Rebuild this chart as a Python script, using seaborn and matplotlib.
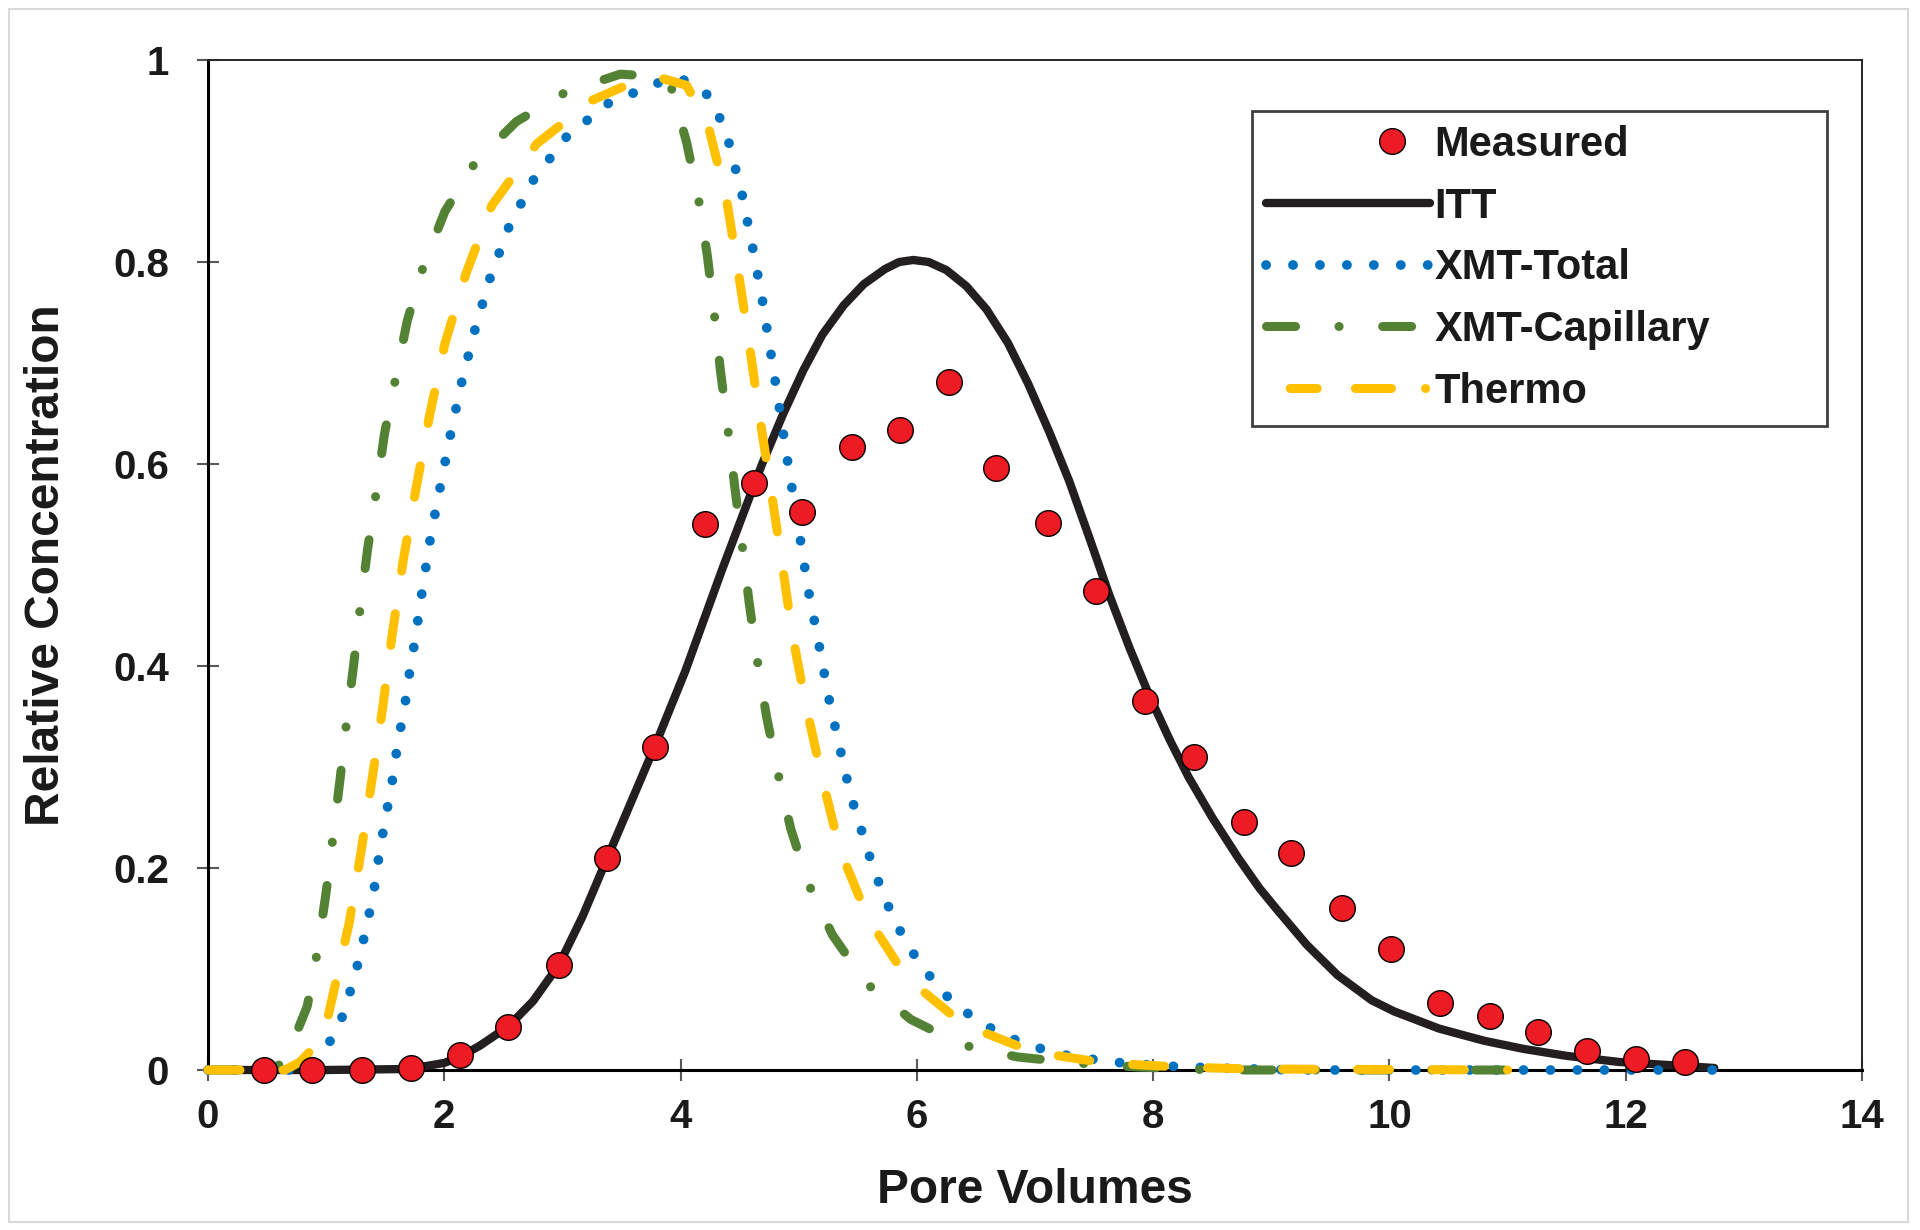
import numpy as np
import pandas as pd
import matplotlib
matplotlib.use("Agg")
import matplotlib.pyplot as plt
import seaborn as sns
from matplotlib.lines import Line2D
from matplotlib.patches import Rectangle
from matplotlib.legend_handler import HandlerLine2D

# measured points
measured_x = [0.47, 0.88, 1.30, 1.72, 2.13, 2.54, 2.97, 3.38, 3.78, 4.21,
              4.62, 5.03, 5.45, 5.86, 6.27, 6.67, 7.11, 7.52, 7.93, 8.35,
              8.77, 9.17, 9.60, 10.01, 10.43, 10.85, 11.26, 11.67, 12.09, 12.50]
measured_y = [0.0, 0.0, 0.0, 0.002, 0.015, 0.043, 0.104, 0.21, 0.32, 0.541,
              0.581, 0.552, 0.617, 0.634, 0.681, 0.596, 0.542, 0.474, 0.365, 0.31,
              0.246, 0.215, 0.16, 0.12, 0.066, 0.053, 0.038, 0.019, 0.011, 0.008]

# ITT model
itt_x = [0.0, 1.0, 1.7, 2.0, 2.13, 2.3, 2.54, 2.75, 2.97, 3.17, 3.38, 3.58, 3.78,
         4.04, 4.35, 4.69, 4.87, 5.04, 5.2, 5.38, 5.55, 5.73, 5.85, 5.97, 6.1,
         6.25, 6.42, 6.59, 6.77, 6.94, 7.12, 7.29, 7.46, 7.63, 7.80, 7.97, 8.14,
         8.30, 8.50, 8.72, 8.90, 9.04, 9.30, 9.56, 9.85, 10.04, 10.42, 10.8,
         11.13, 11.5, 11.94, 12.35, 12.75]
itt_y = [0.0, 0.0, 0.001, 0.007, 0.013, 0.024, 0.043, 0.068, 0.104, 0.152, 0.21,
         0.265, 0.32, 0.395, 0.495, 0.600, 0.65, 0.693, 0.728, 0.757, 0.778,
         0.793, 0.800, 0.802, 0.800, 0.792, 0.776, 0.753, 0.72, 0.68, 0.632,
         0.583, 0.527, 0.47, 0.418, 0.37, 0.327, 0.29, 0.25, 0.21, 0.18, 0.16,
         0.124, 0.094, 0.069, 0.058, 0.041, 0.029, 0.021, 0.014, 0.008, 0.005,
         0.002]

# XMT-Total
tot_x = [0.0, 0.80, 0.95, 1.07, 1.16, 1.22, 1.28, 1.33, 1.38, 1.42, 1.45, 1.49,
         1.53, 1.57, 1.60, 1.64, 1.68, 1.71, 1.75, 1.815, 1.884, 1.97, 2.057,
         2.153, 2.264, 2.392, 2.551, 2.758, 3.035, 3.388, 3.80, 4.0, 4.216, 4.327,
         4.407, 4.52, 4.607, 4.69, 4.762, 4.832, 4.90, 5.01, 5.08, 5.167, 5.25,
         5.298, 5.346, 5.398, 5.45, 5.519, 5.581, 5.657, 5.736, 5.829, 5.942,
         6.07, 6.208, 6.381, 6.57, 6.76, 6.974, 7.19, 7.408, 7.64, 7.862, 8.09,
         8.53, 9.2, 12.85]
tot_y = [0.0, 0.0, 0.014, 0.035, 0.059, 0.085, 0.11, 0.136, 0.163, 0.188, 0.215,
         0.241, 0.267, 0.293, 0.319, 0.345, 0.371, 0.397, 0.424, 0.476, 0.528,
         0.58, 0.632, 0.684, 0.735, 0.786, 0.836, 0.882, 0.924, 0.957, 0.977,
         0.982, 0.967, 0.944, 0.919, 0.867, 0.816, 0.764, 0.711, 0.659, 0.607,
         0.528, 0.476, 0.424, 0.371, 0.345, 0.32, 0.293, 0.268, 0.242, 0.218,
         0.192, 0.168, 0.144, 0.12, 0.099, 0.078, 0.06, 0.045, 0.033, 0.024,
         0.016, 0.012, 0.008, 0.006, 0.004, 0.002, 0.0, 0.0]

# XMT-Capillary
cap_x = [0.0, 0.55, 0.66, 0.84, 0.93, 1.00, 1.06, 1.12, 1.175, 1.235, 1.29, 1.35,
         1.425, 1.494, 1.59, 1.687, 1.826, 2.005, 2.264, 2.61, 3.025, 3.49, 3.75,
         3.923, 4.05, 4.154, 4.227, 4.286, 4.337, 4.40, 4.459, 4.52, 4.579, 4.646,
         4.726, 4.822, 4.932, 5.08, 5.284, 5.57, 5.95, 6.38, 6.846, 7.339, 7.864,
         8.5, 11.3]
cap_y = [0.0, 0.0, 0.011, 0.063, 0.12, 0.176, 0.233, 0.29, 0.347, 0.403, 0.46,
         0.515, 0.573, 0.63, 0.686, 0.742, 0.797, 0.85, 0.899, 0.939, 0.968,
         0.986, 0.984, 0.972, 0.919, 0.861, 0.806, 0.748, 0.693, 0.635, 0.577,
         0.521, 0.464, 0.408, 0.351, 0.295, 0.239, 0.185, 0.134, 0.086, 0.05,
         0.025, 0.013, 0.007, 0.003, 0.0, 0.0]

# Thermo
thermo_x = [0.0, 0.65, 0.78, 0.90, 1.00, 1.055, 1.194, 1.297, 1.39, 1.48, 1.56,
            1.653, 1.763, 1.877, 2.005, 2.185, 2.402, 2.782, 3.249, 3.60, 3.836,
            4.05, 4.234, 4.389, 4.486, 4.579, 4.666, 4.762, 4.855, 4.945, 5.063,
            5.198, 5.346, 5.587, 5.915, 6.397, 6.983, 7.588, 8.21, 8.83, 11.0]
thermo_y = [0.0, 0.0, 0.008, 0.023, 0.045, 0.073, 0.145, 0.217, 0.289, 0.36,
            0.432, 0.505, 0.577, 0.649, 0.719, 0.789, 0.856, 0.917, 0.96, 0.978,
            0.982, 0.975, 0.935, 0.862, 0.792, 0.721, 0.649, 0.577, 0.505, 0.432,
            0.36, 0.289, 0.219, 0.15, 0.091, 0.045, 0.018, 0.007, 0.003, 0.001, 0.0]

x_ticks = [0, 2, 4, 6, 8, 10, 12, 14]
x_labels = ["0", "2", "4", "6", "8", "10", "12", "14"]
y_ticks = [0, 0.2, 0.4, 0.6, 0.8, 1.0]
y_labels = ["0", "0.2", "0.4", "0.6", "0.8", "1"]

red = "#ED1C24"
blue = "#0070C0"
green = "#548235"
yellow = "#FFC000"
black = "#231F20"
ink = "#1a1a1a"

sns.set_theme(style="white")
plt.rcParams["font.family"] = ["Liberation Sans", "DejaVu Sans"]
plt.rcParams["font.weight"] = "bold"
plt.rcParams["axes.labelweight"] = "bold"
plt.rcParams["lines.scale_dashes"] = False
plt.rcParams["text.color"] = ink
plt.rcParams["axes.labelcolor"] = ink

fig = plt.figure(figsize=(19.2, 12.3), dpi=100)
ax = fig.add_axes([208 / 1920, 1 - 1070 / 1230, 1654 / 1920, 1010 / 1230])

sns.lineplot(x=itt_x, y=itt_y, ax=ax, color=black, lw=6, estimator=None,
             sort=False, clip_on=False, zorder=3, legend=False)
sns.lineplot(x=tot_x, y=tot_y, ax=ax, color=blue, lw=7, estimator=None,
             sort=False, linestyle=(0, (0.1, 19.3)), dash_capstyle="round",
             clip_on=False, zorder=4, legend=False)
sns.lineplot(x=cap_x, y=cap_y, ax=ax, color=green, lw=6.5, estimator=None,
             sort=False, linestyle=(0, (20.9, 31.3, 0.1, 31.3)),
             dash_capstyle="round", clip_on=False, zorder=5, legend=False)
sns.lineplot(x=thermo_x, y=thermo_y, ax=ax, color=yellow, lw=6.5, estimator=None,
             sort=False, linestyle=(0, (23, 31)), dash_capstyle="round",
             clip_on=False, zorder=6, legend=False)
sns.scatterplot(x=measured_x, y=measured_y, ax=ax, s=340, color=red,
                edgecolor="black", linewidth=1, clip_on=False, zorder=10,
                legend=False)

ax.set_xlim(0, 14)
ax.set_ylim(0, 1)
ax.set_xticks(x_ticks)
ax.set_xticklabels(x_labels)
ax.set_yticks(y_ticks)
ax.set_yticklabels(y_labels)
ax.tick_params(axis="both", direction="inout", length=16, width=1.5,
               color="#595959", labelsize=29, labelcolor=ink,
               bottom=True, left=True, top=False, right=False)
ax.tick_params(axis="x", pad=12)
ax.tick_params(axis="y", pad=20)
for side in ["left", "bottom"]:
    ax.spines[side].set_color("black")
    ax.spines[side].set_linewidth(2.2)
for side in ["top", "right"]:
    ax.spines[side].set_color("#262626")
    ax.spines[side].set_linewidth(1.4)

ax.set_xlabel("Pore Volumes", fontsize=34.5, labelpad=23)
ax.set_ylabel("Relative Concentration", fontsize=34.5, labelpad=32)


class MarkerRight(HandlerLine2D):
    # puts the single legend marker right of centre, as in the source chart
    def create_artists(self, legend, orig_handle, xdescent, ydescent, width,
                       height, fontsize, trans):
        artists = super().create_artists(legend, orig_handle, xdescent, ydescent,
                                         width, height, fontsize, trans)
        for a in artists:
            n = len(a.get_xdata())
            a.set_xdata([-xdescent + 0.77 * width] * n)
        return artists


h_meas = Line2D([], [], ls="none", marker="o", ms=18.5, mfc=red, mec="black", mew=1)
h_itt = Line2D([], [], color=black, lw=6, solid_capstyle="round")
h_tot = Line2D([], [], color=blue, lw=7, ls=(0, (0.1, 19.3)), dash_capstyle="round")
h_cap = Line2D([], [], color=green, lw=6.5, ls=(0, (20.9, 31.3, 0.1, 31.3)),
               dash_capstyle="round")
h_th = Line2D([], [], color=yellow, lw=6.5,
              ls=(120.6, (19.5, 27.5, 26, 24.5, 0.1, 40)), dash_capstyle="round")

leg = ax.legend(handles=[h_meas, h_itt, h_tot, h_cap, h_th],
                labels=["Measured", "ITT", "XMT-Total", "XMT-Capillary", "Thermo"],
                loc="upper left", bbox_to_anchor=(0.631, 0.640, 0.348, 0.310),
                mode="expand", borderaxespad=0, fontsize=30, handlelength=3.93,
                handletextpad=0.1, borderpad=0.35, labelspacing=0.52,
                frameon=True, fancybox=False, edgecolor="#404040", framealpha=1,
                handler_map={h_meas: MarkerRight(numpoints=1)})
leg.get_frame().set_linewidth(2)
for t in leg.get_texts():
    t.set_color(ink)

fig.add_artist(Rectangle((9 / 1920, 1 - 1222 / 1230), 1899 / 1920, 1213 / 1230,
                         transform=fig.transFigure, fill=False,
                         edgecolor="#d9d9d9", lw=1.5))

fig.savefig("out.png", dpi=100)
